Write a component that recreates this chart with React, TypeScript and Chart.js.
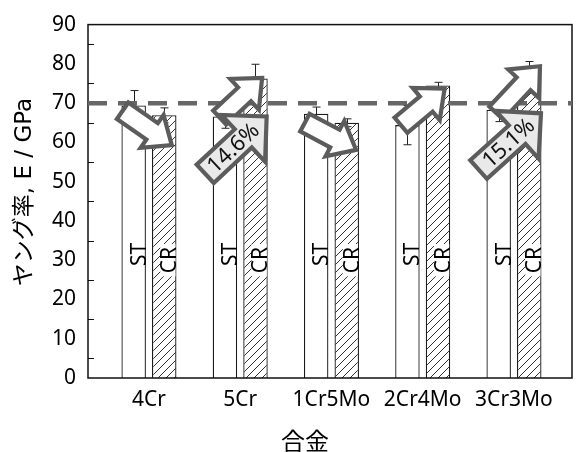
import React, { useEffect, useRef } from "react";
import { Chart, registerables } from "chart.js";

Chart.register(...registerables);

// Alloy grades on the x axis
const alloys = ["4Cr", "5Cr", "1Cr5Mo", "2Cr4Mo", "3Cr3Mo"];
// Young's modulus (GPa): solution treated (ST) and cold rolled (CR)
const stModulus = [69.4, 66.6, 67.3, 64.4, 68.3];
const stError = [3.8, 3.0, 1.7, 5.0, 3.0];
const crModulus = [66.9, 76.3, 65.0, 74.5, 78.6];
const crError = [1.9, 3.6, 1.0, 0.8, 2.0];
// Reference level shown as a dashed line
const referenceModulus = 70;
const yMin = 0;
const yMax = 90;
const yStep = 10;

const FONT = '"Noto Sans", "Noto Sans CJK JP", sans-serif';
const TITLE_FONT = '"DejaVu Sans", "Noto Sans CJK JP", sans-serif';

// Block arrows: tip given in data coordinates, geometry in pixels.
// gainOf marks an arrow that carries the CR/ST gain of that alloy.
type ArrowMark = {
  x: number;
  y: number;
  angle: number;
  length: number;
  shaft: number;
  head: number;
  headLen: number;
  fill: string;
  gainOf?: number;
  textAt?: number;
};

const arrowMarks: ArrowMark[] = [
  { x: 1.25, y: 59.3, angle: 35, length: 60, shaft: 20, head: 40, headLen: 24, fill: "#ffffff" },
  { x: 2.24, y: 76.4, angle: -43, length: 58, shaft: 19, head: 42, headLen: 24, fill: "#ffffff" },
  { x: 2.29, y: 66.6, angle: -43, length: 84, shaft: 25, head: 64, headLen: 32, fill: "#e9e9e9", gainOf: 1, textAt: 38 },
  { x: 3.27, y: 58.1, angle: 28, length: 58, shaft: 20, head: 40, headLen: 24, fill: "#ffffff" },
  { x: 4.24, y: 73.7, angle: -40, length: 57, shaft: 20, head: 42, headLen: 24, fill: "#ffffff" },
  { x: 5.285, y: 79.4, angle: -47, length: 64, shaft: 19, head: 42, headLen: 24, fill: "#ffffff" },
  { x: 5.296, y: 67.4, angle: -42, length: 84, shaft: 25, head: 64, headLen: 32, fill: "#e9e9e9", gainOf: 4, textAt: 40 },
];

function makeHatch(ctx: CanvasRenderingContext2D): CanvasPattern | string {
  const c = document.createElement("canvas");
  c.width = 8;
  c.height = 8;
  const g = c.getContext("2d");
  if (!g) return "#ffffff";
  g.fillStyle = "#ffffff";
  g.fillRect(0, 0, 8, 8);
  g.strokeStyle = "#333333";
  g.lineWidth = 1;
  g.beginPath();
  g.moveTo(0, 8);
  g.lineTo(8, 0);
  g.moveTo(-1, 1);
  g.lineTo(1, -1);
  g.moveTo(7, 9);
  g.lineTo(9, 7);
  g.stroke();
  return ctx.createPattern(c, "repeat") || "#ffffff";
}

const overlay = {
  id: "overlay",
  afterDatasetsDraw(chart: any) {
    const { ctx, chartArea: area, scales } = chart;
    const xs = scales.x;
    const ys = scales.y;
    ctx.save();

    // plot frame
    ctx.strokeStyle = "#111";
    ctx.lineWidth = 1.5;
    ctx.strokeRect(area.left, area.top, area.right - area.left, area.bottom - area.top);

    // inward minor ticks on the left axis
    ctx.lineWidth = 1.2;
    ctx.beginPath();
    for (let v = yMin + yStep / 2; v < yMax; v += yStep) {
      const y = Math.round(ys.getPixelForValue(v)) + 0.5;
      ctx.moveTo(area.left, y);
      ctx.lineTo(area.left + 6, y);
    }
    ctx.stroke();

    // error bars
    const errs = [stError, crError];
    const vals = [stModulus, crModulus];
    ctx.strokeStyle = "#222";
    ctx.lineWidth = 1;
    for (let d = 0; d < 2; d++) {
      const meta = chart.getDatasetMeta(d);
      meta.data.forEach((bar: any, i: number) => {
        const x = Math.round(bar.x) + 0.5;
        const yt = ys.getPixelForValue(vals[d][i] + errs[d][i]);
        const yb = ys.getPixelForValue(vals[d][i] - errs[d][i]);
        ctx.beginPath();
        ctx.moveTo(x, yt);
        ctx.lineTo(x, yb);
        ctx.moveTo(x - 4, yt);
        ctx.lineTo(x + 4, yt);
        ctx.moveTo(x - 4, yb);
        ctx.lineTo(x + 4, yb);
        ctx.stroke();
      });
    }

    // ST / CR labels inside the bars
    ctx.font = `21px ${FONT}`;
    ctx.textAlign = "center";
    ctx.textBaseline = "middle";
    const labelY = [31.5, 30.0];
    const names = ["ST", "CR"];
    for (let d = 0; d < 2; d++) {
      const meta = chart.getDatasetMeta(d);
      meta.data.forEach((bar: any) => {
        const cx = bar.x + 5;
        const cy = ys.getPixelForValue(labelY[d]);
        const w = ctx.measureText(names[d]).width;
        if (d === 1) {
          const right = bar.x + bar.width / 2 - 1;
          ctx.fillStyle = "#fff";
          ctx.fillRect(cx - 9, cy - w / 2 - 3, right - (cx - 9), w + 6);
        }
        ctx.save();
        ctx.translate(cx, cy);
        ctx.rotate(-Math.PI / 2);
        ctx.fillStyle = "#000";
        ctx.fillText(names[d], 0, 1);
        ctx.restore();
      });
    }

    // reference dashed line
    const yRef = ys.getPixelForValue(referenceModulus);
    ctx.strokeStyle = "#676767";
    ctx.lineWidth = 4.5;
    ctx.setLineDash([19, 11]);
    ctx.beginPath();
    ctx.moveTo(area.left, yRef);
    ctx.lineTo(area.right, yRef);
    ctx.stroke();
    ctx.setLineDash([]);

    // block arrows
    arrowMarks.forEach((a) => {
      const tx = xs.getPixelForValue(a.x);
      const ty = ys.getPixelForValue(a.y);
      const L = a.length;
      const s = a.shaft / 2;
      const H = a.head / 2;
      const h = a.headLen;
      ctx.save();
      ctx.translate(tx, ty);
      ctx.rotate((a.angle * Math.PI) / 180);
      ctx.beginPath();
      ctx.moveTo(-L, -s);
      ctx.lineTo(-h, -s);
      ctx.lineTo(-h, -H);
      ctx.lineTo(0, 0);
      ctx.lineTo(-h, H);
      ctx.lineTo(-h, s);
      ctx.lineTo(-L, s);
      ctx.closePath();
      ctx.fillStyle = a.fill;
      ctx.fill();
      ctx.strokeStyle = "#5c5c5c";
      ctx.lineWidth = 4.2;
      ctx.lineJoin = "miter";
      ctx.stroke();
      if (a.gainOf !== undefined) {
        const i = a.gainOf;
        const gain = ((crModulus[i] / stModulus[i]) - 1) * 100;
        ctx.fillStyle = "#111";
        ctx.font = `22px ${FONT}`;
        ctx.textAlign = "center";
        ctx.textBaseline = "middle";
        ctx.fillText(`${gain.toFixed(1)}%`, -L + (a.textAt || L / 2), 1);
      }
      ctx.restore();
    });

    // axis titles
    ctx.fillStyle = "#000";
    ctx.textAlign = "center";
    ctx.textBaseline = "middle";
    ctx.save();
    ctx.translate(25, 192);
    ctx.rotate(-Math.PI / 2);
    ctx.font = `23px ${TITLE_FONT}`;
    ctx.fillText("ヤング率, E / GPa", 0, 0);
    ctx.restore();
    ctx.font = `24px "Noto Sans CJK JP", sans-serif`;
    ctx.fillText("合金", 305, 441);

    ctx.restore();
  },
};

export default function App() {
  const ref = useRef<HTMLCanvasElement>(null);

  useEffect(() => {
    const canvas = ref.current;
    if (!canvas) return;
    const ctx = canvas.getContext("2d");
    if (!ctx) return;
    const hatch = makeHatch(ctx);

    const chart = new Chart(canvas, {
      type: "bar",
      data: {
        datasets: [
          {
            label: "ST",
            data: alloys.map((_, i) => ({ x: i + 1, y: stModulus[i] })),
            backgroundColor: "#ffffff",
            borderColor: "#1a1a1a",
            borderWidth: 1.3,
            categoryPercentage: 0.67,
            barPercentage: 0.8,
          },
          {
            label: "CR",
            data: alloys.map((_, i) => ({ x: i + 1, y: crModulus[i] })),
            backgroundColor: hatch as any,
            borderColor: "#1a1a1a",
            borderWidth: 1.3,
            categoryPercentage: 0.67,
            barPercentage: 0.8,
          },
        ],
      },
      options: {
        responsive: false,
        animation: false,
        devicePixelRatio: 1,
        layout: { padding: { top: 20, right: 4, left: 0, bottom: 0 } },
        plugins: {
          legend: { display: false },
          tooltip: { enabled: false },
        },
        scales: {
          x: {
            type: "linear",
            min: 0.332,
            max: 5.636,
            offset: false,
            grid: { display: false, offset: false, drawTicks: false },
            border: { display: false },
            afterBuildTicks: (s: any) => {
              s.ticks = alloys.map((_, i) => ({ value: i + 1 }));
            },
            afterFit: (s: any) => {
              s.height = 74;
            },
            ticks: {
              callback: (_v: any, i: number) => alloys[i],
              font: { family: FONT, size: 21 },
              color: "#000",
              padding: 9,
              maxRotation: 0,
              autoSkip: false,
            },
          },
          y: {
            min: yMin,
            max: yMax,
            grid: { display: false, drawTicks: false },
            border: { display: false },
            afterFit: (s: any) => {
              s.width = 88;
            },
            ticks: {
              stepSize: yStep,
              font: { family: FONT, size: 21 },
              color: "#000",
              padding: 12,
            },
          },
        },
      } as any,
      plugins: [overlay],
    });

    return () => chart.destroy();
  }, []);

  return (
    <div style={{ position: "fixed", left: 0, top: 0, width: 576, height: 452, background: "#fff" }}>
      <canvas ref={ref} width={576} height={452} style={{ display: "block", width: 576, height: 452 }} />
    </div>
  );
}
